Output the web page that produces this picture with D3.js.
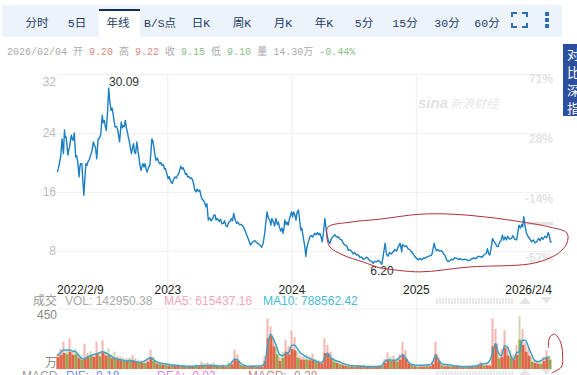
<!DOCTYPE html>
<html lang="zh">
  <head>
    <meta charset="UTF-8" />
    <title>年线</title>
    <script src="https://cdn.jsdelivr.net/npm/d3@7"></script>
    <style>
      body { margin: 0; background: #fff; overflow: hidden; }
      svg { display: block; font-family: "Liberation Sans", Arial, sans-serif; }
      .axis .domain { display: none; }
      .tab { font-family: "Liberation Mono", "Noto Sans CJK SC", sans-serif; font-size: 11.5px; fill: #1c3a66; text-anchor: middle; }
    </style>
  </head>
  <body>
    <script>
      const tabs = ['分时', '5日', '年线', 'B/S点', '日K', '周K', '月K', '年K', '5分', '15分', '30分', '60分'];
      const tabCenters = [37, 77, 118, 160, 201, 242, 283, 324, 364, 405, 447, 487];

      // days since 2022/2/9, closing price
      const closeDays = [1,4,7,10,12,15,17,19,22,24,27,30,32,35,37,40,42,45,47,51,53,55,58,61,65,67,69,73,76,79,82,85,88,91,95,99,103,107,110,113,117,119,121,125,129,133,136,139,142,145,149,152,155,159,162,165,168,171,175,179,184,186,189,192,195,198,201,204,207,210,213,216,219,222,225,228,231,235,238,241,244,247,250,253,256,259,262,265,269,273,276,279,282,285,288,291,295,299,303,306,309,313,316,319,323,327,330,334,339,343,347,351,355,359,364,368,371,374,378,381,384,388,392,396,399,402,405,409,412,416,420,424,427,430,434,438,441,445,449,453,458,462,465,468,472,477,481,485,489,493,497,501,505,509,513,516,520,523,528,532,536,542,548,553,558,563,569,575,582,588,595,602,606,611,614,618,622,626,629,632,636,640,644,648,651,654,658,662,665,668,670,674,677,680,684,687,690,693,696,700,703,706,710,713,717,720,724,729,732,735,739,744,748,752,758,762,766,770,773,777,780,784,788,791,795,799,803,807,812,817,822,827,832,837,842,847,852,857,861,866,871,876,881,886,891,896,901,906,911,915,920,925,930,935,940,945,950,955,958,961,965,968,970,974,978,983,989,994,999,1004,1009,1012,1014,1016,1018,1023,1028,1033,1038,1043,1048,1053,1058,1063,1068,1073,1078,1082,1088,1094,1102,1105,1109,1112,1116,1120,1125,1131,1136,1141,1146,1151,1156,1161,1165,1170,1175,1181,1187,1193,1200,1207,1214,1220,1226,1232,1238,1244,1250,1256,1263,1266,1270,1273,1277,1281,1285,1290,1294,1298,1302,1306,1310,1314,1318,1322,1326,1331,1337,1341,1346,1352,1355,1359,1363,1367,1370,1373,1376,1381,1385,1390,1396,1401,1406,1411,1416,1421,1425,1430,1435,1440,1445,1448,1451,1455];
      const closes = [18.7,19.2,19.85,20.6,21.4,23.2,22.0,21.2,24.4,23.4,23.45,21.9,21.0,21.8,22.1,23.2,23.7,23.1,23.0,24.0,22.2,20.75,20.9,20.1,18.05,19.3,19.85,19.85,17.6,15.55,17.8,19.85,19.6,20.1,20.4,21.0,21.6,22.8,22.3,22.1,20.5,21.9,23.2,23.3,23.9,26.4,25.4,25.7,24.9,24.35,27.05,30.09,28.4,27.05,27.4,26.6,25.6,24.8,24.9,24.35,22.8,23.9,25.5,24.7,25.0,24.9,25.7,24.7,24.1,23.4,22.8,21.9,21.2,22.0,22.55,21.4,21.2,22.8,21.6,20.75,19.6,18.95,19.5,19.85,19.4,19.85,19.1,18.7,19.3,19.6,21.2,23.2,22.9,22.1,21.0,20.3,20.6,20.1,19.8,20.0,19.6,19.7,19.1,19.2,18.5,17.8,18.1,17.5,17.15,17.7,18.05,17.9,18.3,18.6,19.5,19.1,19.3,18.95,18.4,18.5,18.05,18.1,17.8,17.9,17.6,17.1,16.3,16.0,16.4,16.1,16.25,15.4,15.0,14.9,14.6,14.0,14.4,12.2,12.5,12.1,12.4,12.9,12.85,12.2,12.4,12.0,12.3,11.7,11.75,12.1,11.4,11.3,11.9,12.0,12.4,12.1,13.1,12.4,11.75,11.9,11.6,11.6,11.3,10.8,10.15,9.6,8.8,9.2,9.4,9.1,8.9,8.5,9.0,10.4,11.8,13.3,12.4,12.2,11.5,12.4,12.0,11.4,12.4,11.6,11.9,11.3,10.7,11.1,10.4,11.2,12.2,11.6,11.9,11.5,12.4,12.9,13.3,12.6,13.3,12.85,12.2,13.2,13.55,12.5,10.85,11.1,9.9,8.6,7.25,8.5,9.2,9.95,10.1,9.9,10.4,10.2,10.5,10.2,10.4,9.9,9.25,10.6,12.4,11.2,9.95,9.3,9.05,9.7,9.95,10.2,9.9,9.95,9.6,9.5,9.05,8.8,8.7,8.1,8.15,8.0,7.6,7.8,7.45,7.5,7.1,7.2,6.85,7.0,7.15,7.0,6.7,6.6,6.35,6.6,6.55,6.75,6.55,6.2,6.9,7.8,9.05,8.0,7.45,7.3,7.8,7.6,7.9,8.2,8.0,8.6,9.05,8.4,7.9,8.9,8.8,8.6,8.7,8.3,8.15,7.9,7.6,7.2,7.0,6.8,7.0,6.8,7.05,7.0,7.2,7.3,7.45,8.0,9.05,8.5,8.05,8.2,8.0,8.05,7.7,7.4,6.8,6.55,6.7,6.9,6.8,7.1,7.0,6.85,6.95,6.8,6.9,6.75,6.7,6.95,7.05,6.95,7.25,7.25,7.15,7.45,7.7,8.3,7.6,7.45,8.4,9.7,9.3,9.0,8.6,8.6,9.2,9.4,10.15,9.5,9.9,9.5,10.0,9.6,9.7,10.1,9.6,9.5,10.4,11.5,11.1,11.6,11.3,12.65,11.6,10.4,10.0,9.7,9.25,9.5,9.1,9.25,9.7,9.4,9.85,9.6,10.0,9.8,10.5,10.1,9.3,9.15];

      // volume per bar (万): spike, solid body, 10 bar average
      const volumes = [115,150,205,140,230,130,150,110,100,190,120,135,110,205,120,215,130,155,110,130,95,90,85,80,85,105,80,70,65,60,75,145,90,60,55,50,45,40,40,35,35,30,30,28,25,28,35,30,55,45,50,40,50,35,30,35,25,55,60,145,110,50,30,22,25,28,30,25,25,100,380,320,230,160,90,130,220,170,290,240,130,100,95,110,95,115,80,65,60,230,180,130,85,70,55,40,35,30,28,28,30,30,35,25,25,22,22,25,30,75,125,95,100,80,110,205,140,60,40,30,25,28,28,35,30,60,205,90,40,30,32,30,28,30,22,20,20,22,25,30,35,55,40,45,40,380,300,130,150,290,170,140,110,180,395,300,200,170,90,70,65,60,90,140,100];
      const volumeBodies = [90,105,120,110,130,105,110,80,70,85,85,100,90,115,95,125,100,105,80,85,70,65,60,60,60,65,55,50,45,45,55,90,60,40,35,30,28,25,25,22,22,20,20,18,16,18,22,20,30,25,30,25,28,20,18,20,16,30,35,70,60,30,20,15,16,18,20,16,16,60,230,250,170,110,60,85,130,110,150,140,85,70,70,70,65,70,55,45,40,120,110,80,55,45,35,28,22,20,18,18,20,20,22,16,16,15,15,16,20,45,70,60,65,55,70,110,80,40,28,20,16,18,18,22,20,38,110,55,28,20,20,20,18,20,15,14,14,15,16,20,22,35,25,28,25,170,190,80,90,160,100,85,70,105,220,180,130,100,55,45,40,38,60,85,70];
      const ma10 = [100,122,142,142,142,135,130,105,80,75,90,100,108,115,122,130,122,110,95,80,75,70,65,60,65,60,55,50,50,60,75,85,70,55,45,40,38,35,30,28,26,24,22,20,20,20,22,24,26,26,26,28,26,24,22,22,22,30,45,75,70,45,30,22,20,20,22,22,25,35,170,260,225,170,110,100,115,120,175,180,150,120,105,90,80,70,60,52,45,80,120,90,70,60,55,42,35,28,25,24,22,22,20,18,18,18,18,20,22,55,68,68,65,68,85,105,85,50,35,30,28,28,28,30,32,50,100,70,42,35,32,30,25,22,20,18,18,18,20,22,25,35,40,42,60,120,190,120,100,175,165,105,70,120,130,215,215,165,110,65,55,60,75,85,90];
      const barUp = [1,1,1,0,1,1,0,1,0,1,1,0,1,1,0,1,1,0,1,0,1,1,0,1,0,1,1,0,1,0,1,1,0,1,0,1,0,1,0,1,1,0,1,0,1,1,0,1,1,0,1,1,0,1,0,1,1,0,1,1,1,0,1,0,1,1,0,1,1,1,1,1,1,0,1,0,1,1,1,1,0,1,1,0,1,1,0,1,1,1,1,1,0,1,0,1,1,0,1,0,1,1,0,1,1,0,1,1,0,1,1,0,1,0,1,1,1,1,0,1,0,1,1,0,1,1,1,1,0,1,1,0,1,1,0,1,0,1,1,0,1,1,0,1,1,1,1,0,1,1,1,0,1,1,0,1,1,1,0,1,1,0,1,1,0];

      const priceTicks = [32, 24, 16, 8];
      const percentTicks = ['71%', '28%', '-14%', '-57%'];
      const dateLabels = [['2022/2/9', 0], ['2023', 326], ['2024', 691], ['2025', 1057], ['2026/2/4', 1456]];
      const yearLines = [326, 691, 1057];

      // the hand drawn red loops, in chart units
      const priceLoop = [[797,11.24],[862,11.91],[950,12.32],[1068,12.99],[1165,12.99],[1265,12.59],[1371,11.91],[1450,11.24],[1500,10.43],[1500,9.08],[1479,7.87],[1450,7.06],[1391,6.25],[1215,5.84],[1068,5.17],[971,5.57],[950,5.71],[900,6.52],[841,7.46],[803,8.54],[794,9.89]];
      const volumeLoop = [[164,158],[164.3,232],[166,262],[168,202],[168.7,105],[168.3,15],[165,-30]];

      const width = 577;
      const height = 375;
      const svg = d3.select('body').append('svg').attr('width', width).attr('height', height);

      const x = d3.scaleLinear().domain([0, 1456]).range([57, 552]);
      const y = d3.scaleLinear().domain([8, 32]).range([251, 74]);
      const barX = d3.scaleLinear().domain([0, 165]).range([56.5, 551.5]);
      const volY = d3.scaleLinear().domain([0, 450]).range([369, 309]);

      // toolbar
      svg.append('rect').attr('x', 2).attr('y', 5).attr('width', 560).attr('height', 32).attr('fill', '#edf3fb');
      svg.append('rect').attr('x', 99).attr('y', 9).attr('width', 41).attr('height', 28).attr('fill', '#fff');
      svg.append('rect').attr('x', 99).attr('y', 9).attr('width', 41).attr('height', 2).attr('fill', '#12305f');
      svg.selectAll('.tab').data(tabs).enter().append('text').attr('class', 'tab')
        .attr('x', (d, i) => tabCenters[i]).attr('y', 27).text((d) => d);
      svg.append('path').attr('d', 'M512 17v-4h5M522 13h5v4M512 23v4h5M522 27h5v-4').attr('fill', 'none').attr('stroke', '#2f6eb5').attr('stroke-width', 2);
      svg.selectAll('.dot').data([14, 20, 26]).enter().append('rect').attr('x', 545).attr('y', (d) => d - 2).attr('width', 4).attr('height', 4).attr('fill', '#2f6eb5');

      // quote line
      const quote = svg.append('text').attr('x', 7).attr('y', 55).attr('font-family', '"Liberation Mono", "Noto Sans CJK SC", monospace').attr('font-size', 10).attr('xml:space', 'preserve');
      [['2026/02/04 开 ', '#aaa'], ['9.20 ', '#d9897d'], ['高 ', '#aaa'], ['9.22 ', '#d9897d'], ['收 ', '#aaa'], ['9.15 ', '#85c285'], ['低 ', '#aaa'], ['9.10 ', '#85c285'], ['量 14.30万 ', '#aaa'], ['-0.44%', '#85c285']].forEach((d) => {
        quote.append('tspan').attr('fill', d[1]).text(d[0]);
      });

      // side button
      svg.append('rect').attr('x', 563).attr('y', 44).attr('width', 14).attr('height', 72).attr('fill', '#2b4f9e');
      svg.selectAll('.side').data(['对', '比', '深', '指']).enter().append('text')
        .attr('x', 567).attr('y', (d, i) => 59 + i * 18).attr('fill', '#fff').attr('font-size', 13).attr('font-family', '"Noto Sans CJK SC"').text((d) => d);

      // watermark
      svg.append('text').attr('x', 418).attr('y', 108).attr('fill', '#e2e2e2').attr('font-size', 15).attr('font-weight', 'bold').attr('font-style', 'italic').text('sina');
      svg.append('text').attr('x', 450).attr('y', 108).attr('fill', '#e8e8e8').attr('font-size', 12).attr('font-style', 'italic').attr('font-family', '"Noto Sans CJK SC"').text('新浪财经');

      // grid and axes
      svg.selectAll('.year').data(yearLines).enter().append('line')
        .attr('x1', (d) => x(d)).attr('x2', (d) => x(d)).attr('y1', 74).attr('y2', 369).attr('stroke', '#eee');
      const leftAxis = svg.append('g').attr('class', 'axis').attr('transform', 'translate(57,0)')
        .call(d3.axisLeft(y).tickValues(priceTicks).tickSize(-495).tickPadding(1));
      leftAxis.selectAll('line').attr('stroke', '#f0f0f0');
      leftAxis.selectAll('text').attr('fill', '#bbb').attr('font-size', 12).attr('dy', (d) => (d === 32 ? '0.95em' : '0.32em'));
      const percentY = d3.scalePoint().domain(percentTicks).range([79, 258]);
      const rightAxis = svg.append('g').attr('class', 'axis').attr('transform', 'translate(553,0)')
        .call(d3.axisLeft(percentY).tickSize(0).tickPadding(0));
      rightAxis.selectAll('text').attr('fill', '#e3e3e3').attr('font-size', 12).attr('font-weight', 'bold');
      svg.append('rect').attr('x', 527).attr('y', 222).attr('width', 26).attr('height', 3).attr('fill', '#e3e3e3');

      // price line
      const line = d3.line().x((d, i) => x(closeDays[i])).y((d) => y(d));
      svg.append('path').datum(closes).attr('d', line).attr('fill', 'none').attr('stroke', '#1b7fc3').attr('stroke-width', 1.4).attr('stroke-linejoin', 'round');

      svg.append('text').attr('x', 124).attr('y', 86).attr('text-anchor', 'middle').attr('font-size', 12).attr('fill', '#333').text('30.09');
      svg.append('text').attr('x', 382).attr('y', 275).attr('text-anchor', 'middle').attr('font-size', 12).attr('fill', '#333').text('6.20');

      svg.selectAll('.date').data(dateLabels).enter().append('text')
        .attr('x', (d) => x(d[1])).attr('y', 294)
        .attr('text-anchor', (d, i) => (i === 0 ? 'start' : i === 4 ? 'end' : 'middle'))
        .attr('font-size', 12).attr('fill', '#222').text((d) => d[0]);

      // volume panel
      svg.append('line').attr('x1', 57).attr('x2', 552).attr('y1', 309).attr('y2', 309).attr('stroke', '#eee');
      svg.append('text').attr('x', 33).attr('y', 305).attr('font-size', 12).attr('fill', '#999').attr('font-family', '"Noto Sans CJK SC"').text('成交');
      [['VOL: 142950.38', 65, '#aaa'], ['MA5: 615437.16', 164, '#f3a6bb'], ['MA10: 788562.42', 263, '#45bcd6']].forEach((d) => {
        svg.append('text').attr('x', d[1]).attr('y', 305).attr('font-size', 12).attr('fill', d[2]).text(d[0]);
      });
      svg.append('text').attr('x', 57).attr('y', 319).attr('text-anchor', 'end').attr('font-size', 12).attr('fill', '#888').text('450');
      svg.append('text').attr('x', 57).attr('y', 367).attr('text-anchor', 'end').attr('font-size', 12).attr('fill', '#888').attr('font-family', '"Noto Sans CJK SC"').text('万');

      svg.selectAll('.spike').data(volumes).enter().append('rect')
        .attr('x', (d, i) => barX(i)).attr('width', 2).attr('y', (d) => volY(d)).attr('height', (d) => volY(0) - volY(d))
        .attr('fill', (d, i) => (barUp[i] ? '#f5b5b0' : '#c4dcb0'));
      svg.selectAll('.body').data(volumeBodies).enter().append('rect')
        .attr('x', (d, i) => barX(i)).attr('width', 3).attr('y', (d) => volY(d)).attr('height', (d) => volY(0) - volY(d))
        .attr('fill', (d, i) => (barUp[i] ? '#e0664a' : '#97a650'));
      const maLine = d3.line().x((d, i) => barX(i) + 1).y((d) => volY(d)).curve(d3.curveMonotoneX);
      svg.append('path').datum(ma10).attr('d', maLine).attr('fill', 'none').attr('stroke', '#3aa5c9').attr('stroke-width', 1.5);

      // little arrows and dotted strip
      svg.append('path').attr('d', 'M519 304l6-7l6 7zM541 297h11l-5.5 7z').attr('fill', '#e4e4e4');
      svg.append('line').attr('x1', 436).attr('x2', 513).attr('y1', 301).attr('y2', 301).attr('stroke', '#e8e8e8').attr('stroke-width', 6).attr('stroke-dasharray', '2 1');
      svg.append('path').attr('d', 'M519 375l6-6l6 6zM541 369h11l-5.5 6z').attr('fill', '#e4e4e4');
      svg.append('line').attr('x1', 436).attr('x2', 513).attr('y1', 373).attr('y2', 373).attr('stroke', '#e8e8e8').attr('stroke-width', 4).attr('stroke-dasharray', '2 1');

      // MACD row, cut off by the window
      [['MACD', 22, '#999'], ['DIF: -0.18', 66, '#7d86e8'], ['DEA: -0.03', 157, '#e27fe2'], ['MACD: -0.28', 248, '#c08a80']].forEach((d) => {
        svg.append('text').attr('x', d[1]).attr('y', 380).attr('font-size', 12).attr('fill', d[2]).text(d[0]);
      });

      // red hand drawn loops
      const loop = d3.line().curve(d3.curveCatmullRomClosed);
      svg.append('path').attr('d', loop(priceLoop.map((d) => [x(d[0]), y(d[1])]))).attr('fill', 'none').attr('stroke', '#b03038').attr('stroke-width', 1);
      const openLoop = d3.line().curve(d3.curveCatmullRom);
      svg.append('path').attr('d', openLoop(volumeLoop.map((d) => [barX(d[0]), volY(d[1])]))).attr('fill', 'none').attr('stroke', '#b03038').attr('stroke-width', 1);
    </script>
  </body>
</html>
